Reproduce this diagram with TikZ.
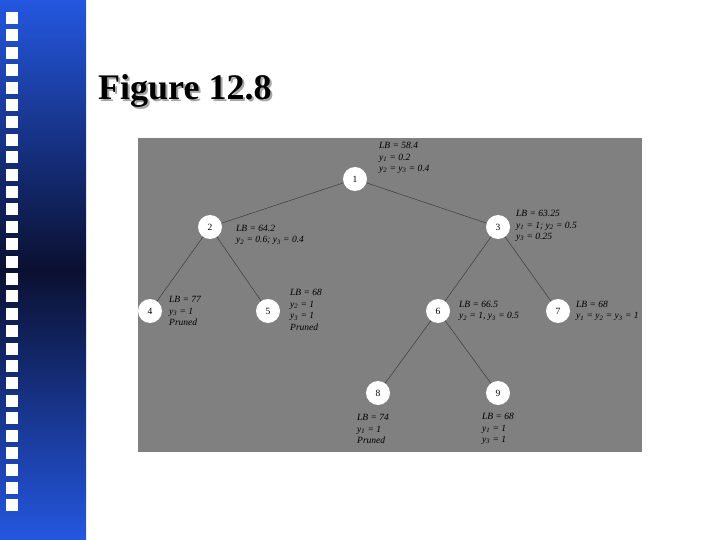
\documentclass[tikz,border=0pt]{standalone}
\usepackage{fontspec}
\setmainfont{Liberation Serif}
\usepackage{xcolor}
\usepackage{tikz}
\usetikzlibrary{positioning}

\definecolor{barblue}{HTML}{2457E0}
\definecolor{barnavy}{HTML}{0A1030}
\definecolor{panelgray}{HTML}{808080}
\definecolor{edgegray}{HTML}{3C3C3C}

\newcommand{\sub}[1]{\textsubscript{#1}}

\begin{document}
\begin{tikzpicture}[x=1pt,y=-1pt,
		bbnode/.style={circle, fill=white, minimum size=24pt, inner sep=0pt, font=\fontsize{9.5}{11}\selectfont},
		bblabel/.style={anchor=west, inner sep=0pt, align=left, text=black, font=\fontsize{9.5}{11.5}\selectfont\itshape},
		bbedge/.style={edgegray, line width=0.5pt}]
				\useasboundingbox (0,0) rectangle (720,540);
				\fill[white] (0,0) rectangle (720,540);
				
				% side bar
				\shade[top color=barblue, bottom color=barblue, middle color=barnavy] (0,0) rectangle (86,540);
				\foreach \i in {0,...,28}
					\fill[white] (6,12+\i*17.4) rectangle ++(12,12);
				
				% title
				\node[anchor=base west, inner sep=0pt, text=black!35, font=\fontsize{36}{40}\selectfont\bfseries] at (100,102) {Figure 12.8};
				\node[anchor=base west, inner sep=0pt, font=\fontsize{36}{40}\selectfont\bfseries] (title) at (98,100) {Figure 12.8};
				
				\fill[panelgray] (138,138) rectangle (642,452);
				
				% tree
				\node[bbnode] (n1) at (355,179) {1};
				\node[bbnode] (n2) at (210,227) {2};
				\node[bbnode] (n3) at (498,227) {3};
				\node[bbnode] (n4) at (150,311) {4};
				\node[bbnode] (n5) at (268,311) {5};
				\node[bbnode] (n6) at (438,311) {6};
				\node[bbnode] (n7) at (558,311) {7};
				\node[bbnode] (n8) at (378,393) {8};
				\node[bbnode] (n9) at (498,393) {9};
				
				\draw[bbedge] (n1) -- (n2);
				\draw[bbedge] (n1) -- (n3);
				\draw[bbedge] (n2) -- (n4);
				\draw[bbedge] (n2) -- (n5);
				\draw[bbedge] (n3) -- (n6);
				\draw[bbedge] (n3) -- (n7);
				\draw[bbedge] (n6) -- (n8);
				\draw[bbedge] (n6) -- (n9);
				
				\node[bblabel] (l1) at (379,158) {LB = 58.4\\y\sub{1} = 0.2\\y\sub{2} = y\sub{3} = 0.4};
				\node[bblabel] (l2) at (236,235) {LB = 64.2\\y\sub{2} = 0.6; y\sub{3} = 0.4};
				\node[bblabel] (l3) at (516,226) {LB = 63.25\\y\sub{1} = 1; y\sub{2} = 0.5\\y\sub{3} = 0.25};
				\node[bblabel] (l4) at (169,311) {LB = 77\\y\sub{3} = 1\\Pruned};
				\node[bblabel] (l5) at (290,310) {LB = 68\\y\sub{2} = 1\\y\sub{3} = 1\\Pruned};
				\node[bblabel] (l6) at (459,311) {LB = 66.5\\y\sub{2} = 1, y\sub{3} = 0.5};
				\node[bblabel] (l7) at (576,311) {LB = 68\\y\sub{1} = y\sub{2} = y\sub{3} = 1};
				\node[bblabel] (l8) at (357,429) {LB = 74\\y\sub{1} = 1\\Pruned};
				\node[bblabel] (l9) at (482,429) {LB = 68\\y\sub{1} = 1\\y\sub{3} = 1};
			\end{tikzpicture}
\end{document}
